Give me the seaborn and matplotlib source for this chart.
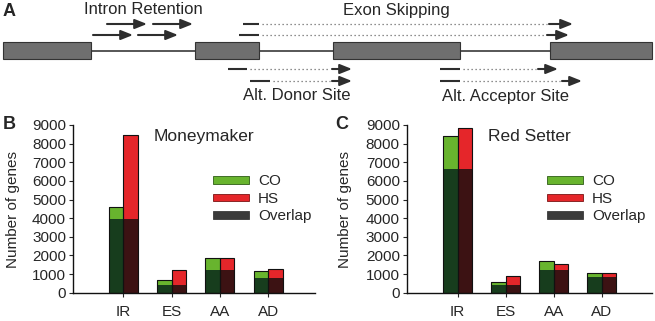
import matplotlib
matplotlib.use('Agg')
import matplotlib.pyplot as plt
import seaborn as sns
import pandas as pd
from matplotlib.patches import Rectangle, Patch

# --- data ---
events = ['IR', 'ES', 'AA', 'AD']
conditions = ['CO', 'HS']
mm_co = [4580, 665, 1880, 1180]
mm_hs = [8450, 1220, 1880, 1250]
mm_overlap = [3940, 415, 1220, 800]
rs_co = [8420, 600, 1685, 1075]
rs_hs = [8820, 905, 1560, 1080]
rs_overlap = [6630, 430, 1220, 825]
yticks = list(range(0, 9001, 1000))

# gene model for panel A (pixel layout of the schematic)
exons = [(3, 91), (195, 259), (333, 460), (550, 652)]
ir_arrows = [(24, 107, 147), (24, 153, 193), (35, 93, 133), (35, 138, 178)]
# y, solid start, solid end, arrow start, arrow end
dotted_arrows = [
    (24, 243, 259, 549, 573), (35, 239, 259, 547, 569),   # exon skipping
    (69, 228, 247, 332, 352), (81, 250, 270, 332, 352),   # alt donor
    (69, 440, 460, 538, 558), (81, 440, 460, 562, 582),   # alt acceptor
]

co_color, hs_color = '#68b42e', '#e5262a'
co_dark, hs_dark = '#173d1d', '#3c1213'
ink = '#2e2e2e'

sns.set_style('ticks')
plt.rcParams['font.family'] = ['Liberation Sans', 'DejaVu Sans']

W, H = 655, 321
fig = plt.figure(figsize=(W / 100, H / 100), dpi=100)


def px_axes(left, top, right, bottom):
    return fig.add_axes([left / W, 1 - bottom / H, (right - left) / W, (bottom - top) / H])


# ---------- panel A ----------
axA = px_axes(0, 0, W, 110)
axA.set_xlim(0, W)
axA.set_ylim(110, 0)
axA.axis('off')
axA.plot([exons[0][1], exons[-1][0]], [50.5, 50.5], color='#3a3a3a', lw=1.2, zorder=1)
for x0, x1 in exons:
    axA.add_patch(Rectangle((x0, 42), x1 - x0, 17, facecolor='#6f6f6f',
                            edgecolor='#333333', lw=0.8, zorder=2))
arrow_kw = dict(arrowstyle='-|>,head_length=0.6,head_width=0.24', color=ink,
                lw=1.5, mutation_scale=12, shrinkA=0, shrinkB=0)
for y, x0, x1 in ir_arrows:
    axA.annotate('', xy=(x1, y), xytext=(x0, y), arrowprops=arrow_kw)
for y, s0, s1, a0, a1 in dotted_arrows:
    axA.plot([s0, s1], [y, y], color=ink, lw=1.5, solid_capstyle='butt')
    axA.plot([s1 + 3, a0 - 2], [y, y], color='#6a6a6a', lw=0.9, ls=(0, (1, 2.2)))
    axA.annotate('', xy=(a1, y), xytext=(a0, y), arrowprops=arrow_kw)
axA.text(143, 10, 'Intron Retention', ha='center', va='center', fontsize=12)
axA.text(396, 10, 'Exon Skipping', ha='center', va='center', fontsize=12)
axA.text(297, 96, 'Alt. Donor Site', ha='center', va='center', fontsize=12)
axA.text(505, 96, 'Alt. Acceptor Site', ha='center', va='center', fontsize=12)
axA.text(3, 12, 'A', ha='left', va='center', fontsize=13, fontweight='bold')


# ---------- panels B and C ----------
def make_df(co, hs, ov):
    return pd.DataFrame({
        'event': events * 2,
        'condition': ['CO'] * 4 + ['HS'] * 4,
        'total': co + hs,
        'overlap': ov + ov,
    })


def draw_panel(ax, df, title, legend_x):
    common = dict(data=df, x='event', hue='condition', hue_order=conditions,
                  order=events, width=0.6, errorbar=None, legend=False, ax=ax)
    sns.barplot(y='total', palette=[co_color, hs_color], saturation=1,
                linewidth=0, **common)
    sns.barplot(y='overlap', palette=[co_dark, hs_dark], saturation=1,
                linewidth=0, **common)
    sns.barplot(y='total', palette=['#111111', '#111111'], fill=False,
                linewidth=0.8, **common)
    ax.set_ylim(0, 9000)
    ax.set_yticks(yticks)
    ax.set_xlabel('')
    ax.set_ylabel('')
    sns.despine(ax=ax)
    for s in ax.spines.values():
        s.set_linewidth(1.0)
        s.set_color('#111111')
    ax.tick_params(direction='out', length=3, width=0.8, labelsize=11, pad=2)
    ax.tick_params(axis='x', pad=6)
    ax.text(0.332, 0.932, title, transform=ax.transAxes, ha='left',
            va='center', fontsize=12.5)
    handles = [Patch(facecolor=co_color, edgecolor='#2e5c15', lw=0.6, label='CO'),
               Patch(facecolor=hs_color, edgecolor='#7a1414', lw=0.6, label='HS'),
               Patch(facecolor='#3b3b3b', edgecolor='#3b3b3b', lw=0.6, label='Overlap')]
    ax.legend(handles=handles, loc='upper left', bbox_to_anchor=(legend_x, 0.705),
              frameon=False, fontsize=11, handlelength=2.35, handleheight=0.4,
              handletextpad=0.6, labelspacing=0.22, borderpad=0, borderaxespad=0)


axB = px_axes(73, 125, 315, 292.7)
draw_panel(axB, make_df(mm_co, mm_hs, mm_overlap), 'Moneymaker', 0.578)
axB.set_xlim(-1.04, 3.97)

axC = px_axes(406.7, 125, 651.7, 292.7)
draw_panel(axC, make_df(rs_co, rs_hs, rs_overlap), 'Red Setter', 0.573)
axC.set_xlim(-1.06, 4.04)

fig.text(13 / W, 1 - 209 / H, 'Number of genes', rotation=90, ha='center',
         va='center', fontsize=11)
fig.text(345 / W, 1 - 209 / H, 'Number of genes', rotation=90, ha='center',
         va='center', fontsize=11)
fig.text(3 / W, 1 - 125 / H, 'B', ha='left', va='center', fontsize=13, fontweight='bold')
fig.text(335 / W, 1 - 125 / H, 'C', ha='left', va='center', fontsize=13, fontweight='bold')

fig.savefig('out.png', dpi=100, facecolor='white')
